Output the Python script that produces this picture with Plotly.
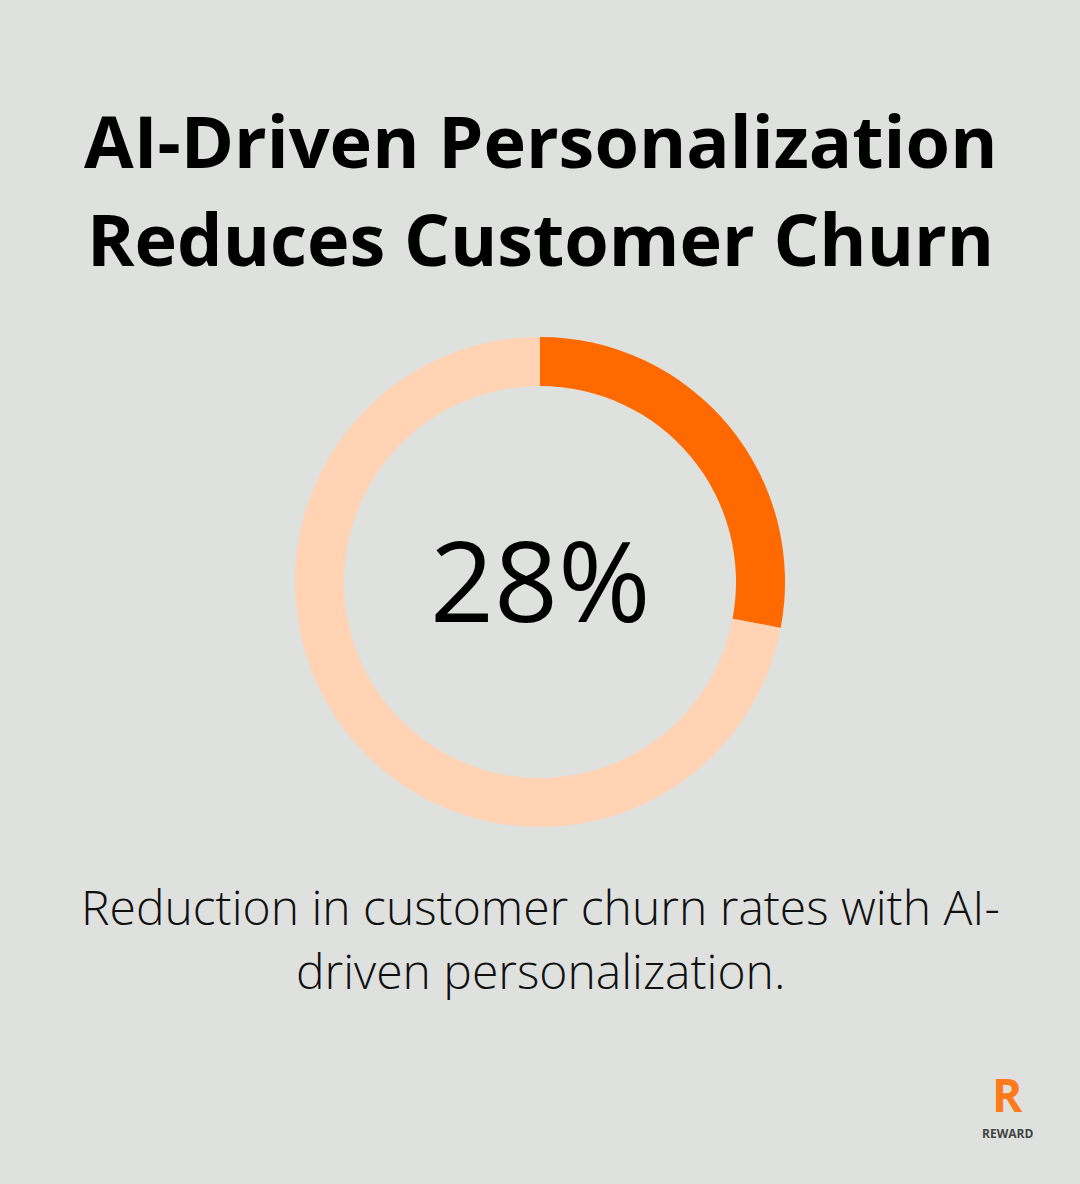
import plotly.graph_objects as go

labels = ["Reduction", "Remaining"]
values = [28, 72]
colors = ["#FF6A00", "#FFD3B4"]
title_lines = ["AI-Driven Personalization", "Reduces Customer Churn"]
center_text = "28%"
caption = ["Reduction in customer churn rates with AI-", "driven personalization."]

fig = go.Figure(go.Pie(
    labels=labels, values=values, hole=0.8, sort=False, direction="clockwise",
    rotation=0, marker=dict(colors=colors, line=dict(width=0)),
    textinfo="none", hoverinfo="skip",
    domain=dict(x=[0.2731, 0.7269], y=[0.3015, 0.7154]),
))
bg = "#DFE1DF"
fig.update_layout(width=1080, height=1184, margin=dict(l=0, r=0, t=0, b=0),
                  paper_bgcolor=bg, plot_bgcolor=bg, showlegend=False)

def a(text, xpx, ypx, size, color="#000", weight=None):
    f = dict(family="Open Sans", size=size, color=color)
    if weight:
        f["weight"] = weight
    return dict(text=text, x=xpx / 1080, y=1 - ypx / 1184, xref="paper", yref="paper",
                xanchor="center", yanchor="middle", showarrow=False, font=f)

ann = []
for i, t in enumerate(title_lines):
    ann.append(a(f"<b>{t}</b>", 540, 140 + 98 * i, 72))
ann.append(a(center_text, 540, 578, 112))
for i, t in enumerate(caption):
    ann.append(a(t, 540, 906 + 64 * i, 48, "#111", 300))
ann.append(a("<b>R</b>", 1007, 1094, 46, "#FF7A1A"))
ann.append(a("<b>REWARD</b>", 1007, 1133, 12, "#444"))
fig.update_layout(annotations=ann)
fig.write_html("out.html", config={"displayModeBar": False},
               post_script="document.body.style.margin='0';")
